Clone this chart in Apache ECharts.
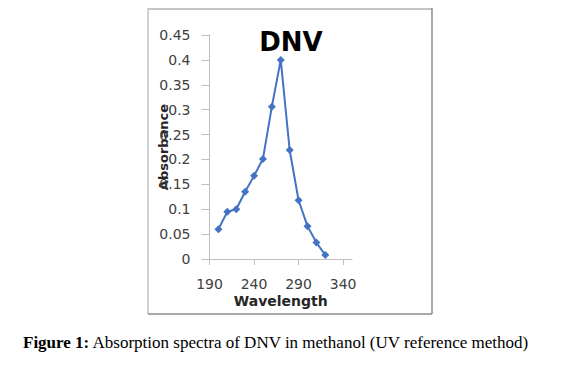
<!DOCTYPE html>
<html>
<head>
<meta charset="utf-8">
<script src="https://cdn.jsdelivr.net/npm/echarts@6/dist/echarts.min.js"></script>
<style>
html,body{margin:0;padding:0;background:#fff;}
#c{width:570px;height:372px;}
</style>
</head>
<body>
<div id="c"></div>
<script>
const chartTitle = 'DNV';
const xName = 'Wavelength';
const yName = 'Absorbance';
const wavelengths = [200, 210, 220, 230, 240, 250, 260, 270, 280, 290, 300, 310, 320];
const absorbance = [0.060, 0.095, 0.100, 0.135, 0.167, 0.201, 0.306, 0.400, 0.219, 0.118, 0.066, 0.033, 0.008];
const xTicks = [190, 240, 290, 340];
const captionBold = 'Figure 1:';
const captionText = ' Absorption spectra of DNV in methanol (UV reference method)';

const chart = echarts.init(document.getElementById('c'), null, {renderer: 'svg'});
chart.setOption({
  animation: false,
  backgroundColor: '#fff',
  grid: {left: 209.5, right: 218, top: 35, bottom: 113, containLabel: false},
  xAxis: {
    type: 'value', min: 190, max: 350,
    name: xName, nameLocation: 'middle', nameGap: 35, nameMoveOverlap: false,
    nameTextStyle: {fontFamily: 'DejaVu Sans', fontWeight: 'bold', fontSize: 14, color: '#262626'},
    axisLine: {show: true, lineStyle: {color: '#bfbfbf', width: 1}},
    axisTick: {show: true, customValues: xTicks, length: 6, lineStyle: {color: '#bfbfbf'}},
    axisLabel: {customValues: xTicks, margin: 18, fontFamily: 'DejaVu Sans', fontSize: 14, color: '#404040'},
    splitLine: {show: false}
  },
  yAxis: {
    type: 'value', min: 0, max: 0.45, interval: 0.05,
    name: yName, nameLocation: 'middle', nameGap: 40, nameMoveOverlap: false,
    nameTextStyle: {fontFamily: 'DejaVu Sans', fontWeight: 'bold', fontSize: 13, color: '#262626'},
    axisLine: {show: true, lineStyle: {color: '#bfbfbf', width: 1}},
    axisTick: {show: true, length: 8, lineStyle: {color: '#bfbfbf'}},
    axisLabel: {margin: 19, fontFamily: 'DejaVu Sans', fontSize: 14, color: '#404040',
      formatter: v => String(Math.round(v * 100) / 100)},
    splitLine: {show: false}
  },
  series: [{
    type: 'line',
    data: wavelengths.map((w, i) => [w, absorbance[i]]),
    lineStyle: {color: '#4472C4', width: 2},
    itemStyle: {color: '#4472C4'},
    symbol: 'diamond', symbolSize: 8,
    showSymbol: true
  }],
  graphic: [
    {type: 'line', shape: {x1: 148, y1: 9, x2: 432, y2: 9}, style: {stroke: '#c4c4c4', lineWidth: 2}, silent: true},
    {type: 'line', shape: {x1: 148, y1: 8, x2: 148, y2: 314}, style: {stroke: '#d0d0d0', lineWidth: 2}, silent: true},
    {type: 'line', shape: {x1: 432, y1: 8, x2: 432, y2: 314}, style: {stroke: '#8c8c8c', lineWidth: 1.5}, silent: true},
    {type: 'line', shape: {x1: 148, y1: 314, x2: 432, y2: 314}, style: {stroke: '#8c8c8c', lineWidth: 1.5}, silent: true},
    {
      type: 'text', x: 291, y: 29, silent: true,
      style: {text: chartTitle, textAlign: 'center', textVerticalAlign: 'top',
        font: 'bold 26px "DejaVu Sans"', fill: '#000'}
    },
    {
      type: 'text', left: 23, top: 334, silent: true,
      style: {
        text: '{b|' + captionBold + '}' + captionText,
        font: '17px "Liberation Serif"', fill: '#000',
        rich: {b: {fontFamily: 'Liberation Serif', fontWeight: 'bold', fontSize: 17, fill: '#000'}}
      }
    }
  ]
});
</script>
</body>
</html>
